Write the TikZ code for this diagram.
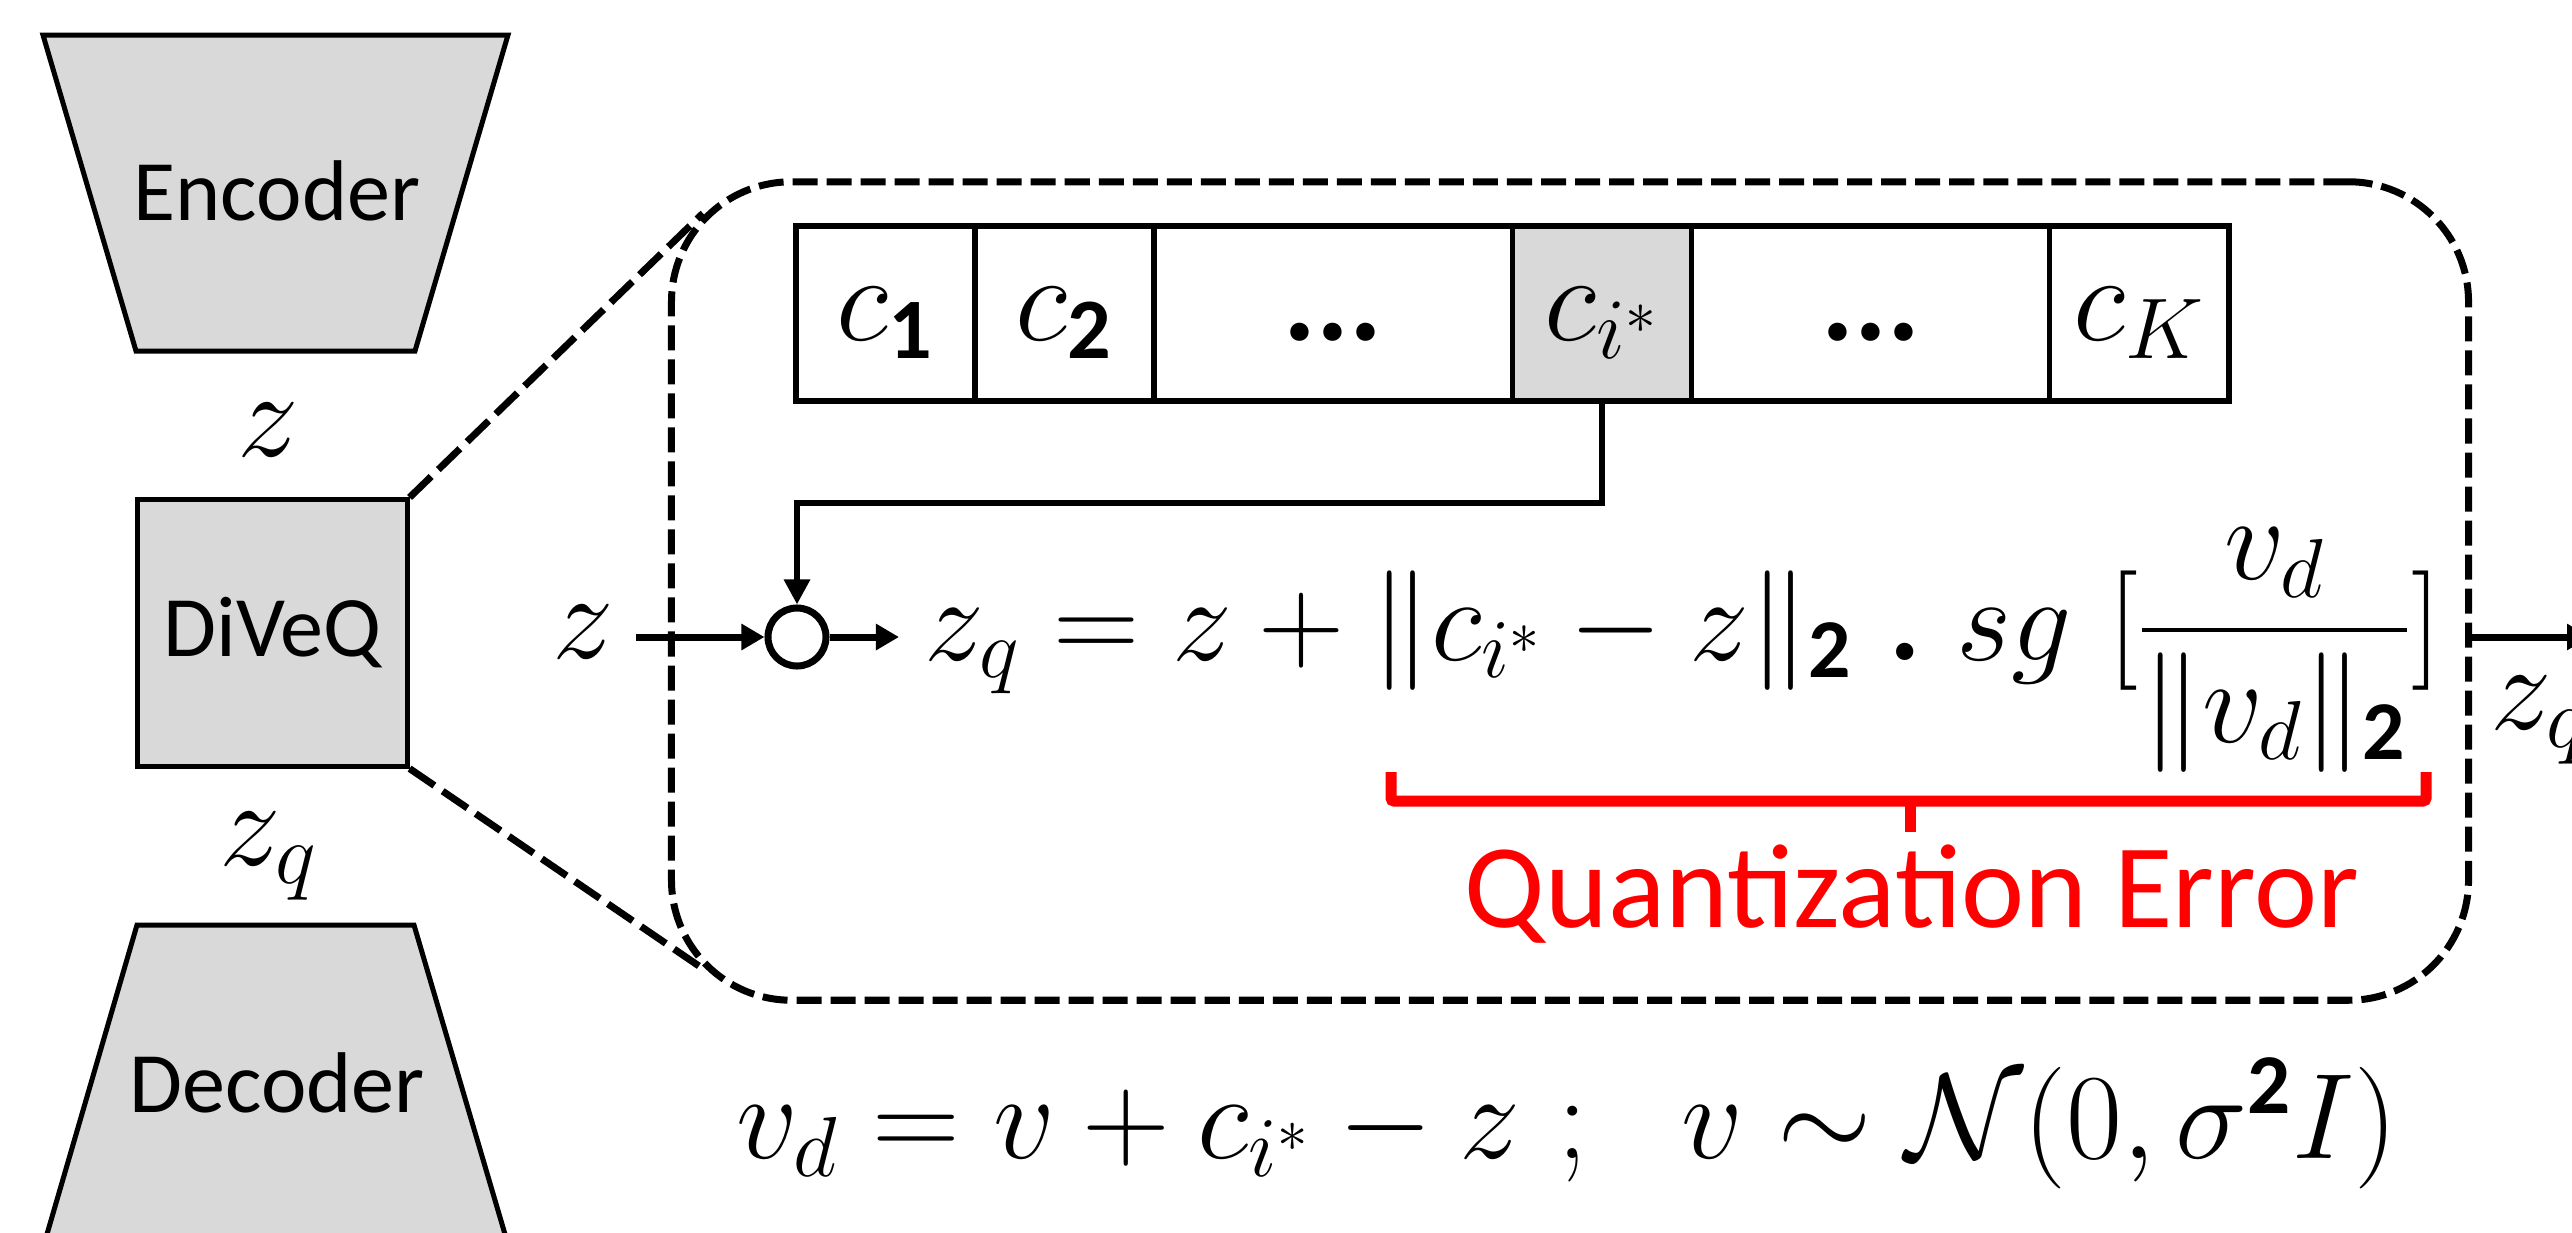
\RequirePackage{fix-cm}
\documentclass[tikz,border=0pt]{standalone}
\usepackage{amsmath}
\usepackage{fontspec}
\setsansfont{Carlito}
\usepackage{xcolor}
\usepackage{tikz}
\usetikzlibrary{arrows.meta,positioning,calc}
\definecolor{dvqInk}{HTML}{000000}
\definecolor{dvqFill}{HTML}{D9D9D9}
\definecolor{dvqRed}{HTML}{FF0000}
\newcommand{\mathfs}{\fontsize{35}{40}\selectfont}
\newcommand{\eqfs}{\fontsize{34}{40}\selectfont}
\newcommand{\noisefs}{\fontsize{34.6}{40}\selectfont}
\newcommand{\labfs}{\fontsize{24.5}{28}\selectfont}
\newcommand{\errfs}{\fontsize{34}{40}\selectfont}
\newcommand{\sfd}[1]{\text{\sffamily\bfseries #1}}
\tikzset{
    every picture/.style={font=\sffamily},
    blockshape/.style={draw=dvqInk, line width=0.05cm, fill=dvqFill},
    vqbox/.style={draw=dvqInk, line width=0.05cm, fill=dvqFill, minimum width=2.69cm, minimum height=2.66cm, inner sep=0pt, font=\labfs\sffamily},
    blocklabel/.style={font=\labfs\sffamily, anchor=base, inner sep=0pt},
    mathlabel/.style={font=\mathfs, anchor=base, inner sep=0pt},
    eqlabel/.style={font=\eqfs, anchor=base, inner sep=0pt},
    codecell/.style={draw=dvqInk, line width=0.055cm, minimum width=1.79cm, minimum height=1.75cm, inner sep=0pt, outer sep=0pt, font=\mathfs, text height=0.75cm, text depth=0.22cm},
    widecell/.style={codecell, minimum width=3.58cm},
    zoombox/.style={draw=dvqInk, line width=0.07cm, dash pattern=on 0.25cm off 0.09cm, rounded corners=1.2cm, minimum width=17.96cm, minimum height=8.18cm, inner sep=0pt},
    zoomline/.style={draw=dvqInk, line width=0.07cm, dash pattern=on 0.3cm off 0.1cm},
    sumnode/.style={circle, draw=dvqInk, line width=0.07cm, minimum size=0.58cm, inner sep=0pt},
    flowarrow/.style={-{Triangle[length=0.23cm, width=0.25cm]}, line width=0.07cm, draw=dvqInk},
    pickarrow/.style={-{Triangle[length=0.25cm, width=0.25cm]}, line width=0.06cm, draw=dvqInk},
    errbrace/.style={draw=dvqRed, line width=0.11cm, rounded corners=0.03cm},
    errtext/.style={font=\errfs\sffamily, text=dvqRed, anchor=base, inner sep=0pt}
}
\begin{document}
\begin{tikzpicture}[x=0.01cm, y=-0.01cm]
\clip (0,0) rectangle (2572,1233);
% autoencoder
\draw[blockshape] (43,35) -- (508,35) -- (415,351) -- (136,351) -- cycle;
\node[blocklabel] (enc) at (277,220) {Encoder};
\draw[blockshape] (137,925) -- (414,925) -- (507,1241) -- (45,1241) -- cycle;
\node[blocklabel] (dec) at (277,1112) {Decoder};
\node[vqbox] (vq) at (272.5,633) {DiVeQ};
\node[mathlabel] (zenc) at (268,456) {$z$};
\node[mathlabel] (zdec) at (269,865) {$z_q$};

% zoomed view
\node[zoombox] (zoom) at (1570,591) {};
\draw[zoomline] (vq.north east) -- ($(zoom.north west)+(35,35)$);
\draw[zoomline] (vq.south east) -- ($(zoom.south west)+(35,-35)$);

% codebook
\node[codecell] (c1) at (885.5,313.5) {$c_{\sfd{1}}$};
\node[codecell, right=0pt of c1] (c2) {$c_{\sfd{2}}$};
\node[widecell, right=0pt of c2] (d1) {\sffamily\bfseries ...};
\node[codecell, fill=dvqFill, right=0pt of d1] (ci) {$c_{i^*}$};
\node[widecell, right=0pt of ci] (d2) {\sffamily\bfseries ...};
\node[codecell, right=0pt of d2] (cK) {$c_K$};

% quantization
\node[mathlabel, inner xsep=0.22cm] (zin) at (583,658) {$z$};
\node[sumnode] (sum) at (797,637) {};
\node[eqlabel, anchor=base west, inner xsep=0.25cm] (eq) at (899,660) {$z_q = z + \|c_{i^*} - z\|_{\sfd{2}}\;\text{\bfseries .}\;sg\ [\dfrac{v_d}{\|v_d\|_{\sfd{2}}}]$};
\coordinate (zqend) at (2590,637);
\draw[flowarrow] (zin.east |- sum) -- (sum.west);
\draw[flowarrow] (sum.east) -- (sum.east -| eq.west);
\draw[pickarrow] (ci.south) -- ++(0,102) -| (sum.north);
\draw[flowarrow] (sum -| eq.east) -- (zqend);
\node[mathlabel, anchor=base west] (zqout) at (2490,729) {$z_q$};

% error term
\draw[errbrace] (1391,772) -- (1391,801) -- (2426,801) -- (2426,772);
\draw[errbrace] (1910,801) -- (1910,832);
\node[errtext] (qerr) at (1912,927) {Quantization Error};

\node[eqlabel, font=\noisefs] (noise) at (1567,1158) {$v_d = v + c_{i^*} - z\ ;\ \ v \sim \mathcal{N}(0, \sigma^{\sfd{2}} I)$};
\end{tikzpicture}
\end{document}
